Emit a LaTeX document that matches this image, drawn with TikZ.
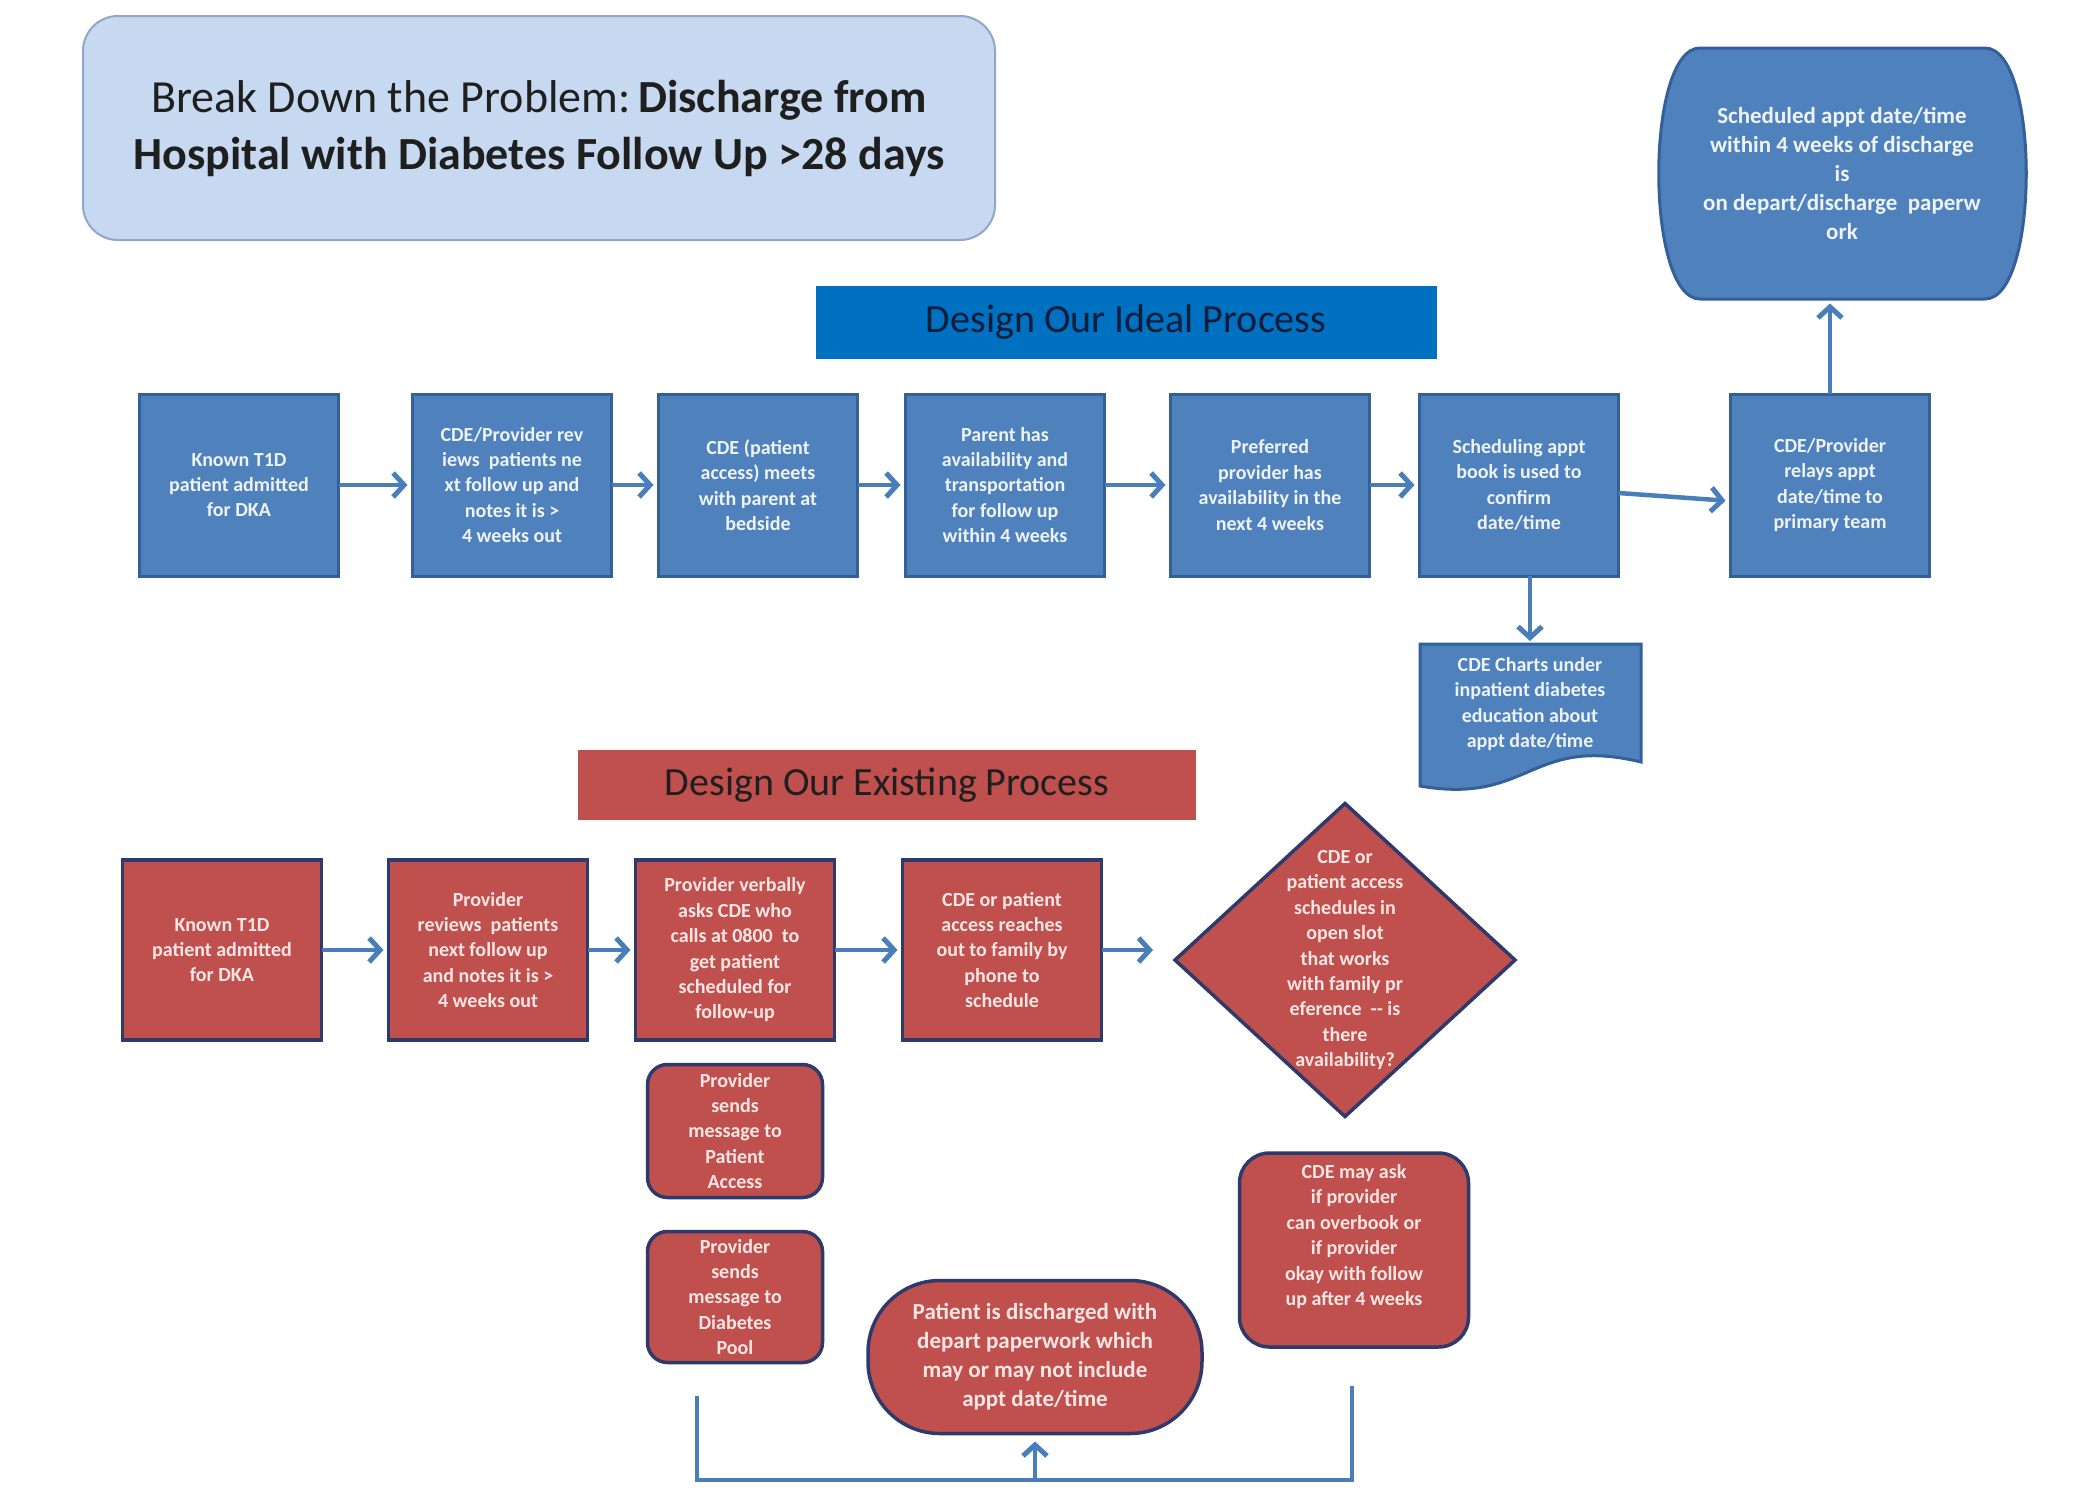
\documentclass[tikz,border=0pt]{standalone}
\usepackage{fontspec}
\setmainfont{Carlito}
\usetikzlibrary{arrows.meta,shapes.geometric}
\definecolor{bfill}{HTML}{4F81BD}
\definecolor{bdraw}{HTML}{34609A}
\definecolor{btext}{HTML}{EEF3FA}
\definecolor{rfill}{HTML}{C0504D}
\definecolor{rdraw}{HTML}{2F3A6C}
\definecolor{rtextc}{HTML}{FBE6E4}
\definecolor{arrc}{HTML}{4A7EBB}
\definecolor{titlefill}{HTML}{C6D9F0}
\definecolor{titledraw}{HTML}{8FA8C6}
\definecolor{idealfill}{HTML}{0070C0}
\definecolor{idealtext}{HTML}{0F1D3A}
\begin{document}
\begin{tikzpicture}[x=1pt,y=-1pt,
  boxtxt/.style={font=\fontsize{20}{25.4}\selectfont\bfseries, align=center, inner sep=0, outer sep=0},
  bbox/.style={boxtxt, draw=bdraw, fill=bfill, text=btext, line width=3, minimum width=199, minimum height=182},
  rbox/.style={boxtxt, draw=rdraw, fill=rfill, text=rtextc, line width=3.5, minimum width=199, minimum height=180},
  rround/.style={boxtxt, draw=rdraw, fill=rfill, text=rtextc, line width=3.5, rounded corners=20},
  arr/.style={draw=arrc, line width=4.5, -{Straight Barb[length=11pt,width=24pt,line width=5pt]}, shorten >=5},
  bracketline/.style={draw=arrc, line width=3.5},
]
\useasboundingbox (0,0) rectangle (2075,1494);
\fill[white] (0,0) rectangle (2075,1494);

% title
\node[draw=titledraw, fill=titlefill, line width=2, rounded corners=35, minimum width=912, minimum height=224,
  font=\fontsize{46}{57}\selectfont, align=center, text=black!88, inner sep=0] (title) at (539,128)
  {Break Down the Problem:\,\textbf{Discharge from}\\\textbf{Hospital with Diabetes Follow Up >28 days}};

% banners
\node[fill=idealfill, minimum width=621, minimum height=73, inner sep=0, font=\fontsize{40}{48}\selectfont, text=idealtext] (ideal) at (1126,322) {Design Our Ideal Process};
\node[fill=rfill, minimum width=618, minimum height=70, inner sep=0, font=\fontsize{40}{48}\selectfont, text=black!88] (exist) at (887,785) {Design Our Existing Process};

% top terminal shape
\path[fill=bfill, draw=bdraw, line width=3] (1700,48) -- (1985,48) .. controls (2040,48) and (2040,299) .. (1985,299) -- (1700,299) .. controls (1645,299) and (1645,48) .. (1700,48) -- cycle;
% document shape
\path[fill=bfill, draw=bdraw, line width=3] (1420,644) -- (1641,644) -- (1641,762) .. controls (1530,735) and (1530,805) .. (1420,786) -- cycle;

% ideal row
\node[bbox] (b1) at (239,485) {Known T1D\\patient admitted\\for DKA};
\node[bbox] (b2) at (512,485) {CDE/Provider rev\\iews\ \ patients ne\\xt follow up and\\notes it is >\\4 weeks out};
\node[bbox] (b3) at (758,485) {CDE (patient\\access) meets\\with parent at\\bedside};
\node[bbox] (b4) at (1005,485) {Parent has\\availability and\\transportation\\for follow up\\within 4 weeks};
\node[bbox] (b5) at (1270,485) {Preferred\\provider has\\availability in the\\next 4 weeks};
\node[bbox] (b6) at (1519,485) {Scheduling appt\\book is used to\\confirm\\date/time};
\node[bbox] (b7) at (1830,485) {CDE/Provider\\relays appt\\date/time to\\primary team};
\node[boxtxt, text=btext, font=\fontsize{23}{29}\selectfont\bfseries, minimum width=369, minimum height=251] (term) at (1842,173)
  {Scheduled appt date/time\\within 4 weeks of discharge\\is\\on depart/discharge\ \ paperw\\ork};
\node[boxtxt, text=btext, minimum width=221, minimum height=120] (doc) at (1530,704)
  {CDE Charts under\\inpatient diabetes\\education about\\appt date/time};

\draw[arr] (b1.east) -- (b2.west);
\draw[arr] (b2.east) -- (b3.west);
\draw[arr] (b3.east) -- (b4.west);
\draw[arr] (b4.east) -- (b5.west);
\draw[arr] (b5.east) -- (b6.west);
\draw[arr] ([yshift=-8pt]b6.east) -- ([yshift=-16pt]b7.west);
\draw[arr, shorten >=3] (doc.north |- b6.south) -- (doc.north);
\draw[arr] (b7.north) -- (b7.north |- term.south);

% existing row
\node[rbox] (r1) at (222,950) {Known T1D\\patient admitted\\for DKA};
\node[rbox] (r2) at (488,950) {Provider\\reviews\ \ patients\\next follow up\\and notes it is >\\4 weeks out};
\node[rbox] (r3) at (735,950) {Provider verbally\\asks CDE who\\calls at 0800\ \ to\\get patient\\scheduled for\\follow-up};
\node[rbox] (r4) at (1002,950) {CDE or patient\\access reaches\\out to family by\\phone to\\schedule};
\node[diamond, draw=rdraw, fill=rfill, line width=3.5, minimum width=340, minimum height=313, inner sep=0, outer sep=0,
  label={[boxtxt, text=rtextc]center:{CDE or\\patient access\\schedules in\\open slot\\that works\\with family pr\\eference\ \ -{}- is\\there\\availability?}}] (dia) at (1345,960) {};

\draw[arr] (r1.east) -- (r2.west);
\draw[arr] (r2.east) -- (r3.west);
\draw[arr] (r3.east) -- (r4.west);
\draw[arr, shorten >=22] (r4.east) -- (r4.east -| dia.west);

\node[rround, minimum width=175, minimum height=133] (m1) at (735,1131) {Provider\\sends\\message to\\Patient\\Access};
\node[rround, minimum width=175, minimum height=131] (m2) at (735,1297) {Provider\\sends\\message to\\Diabetes\\Pool};
\node[boxtxt, draw=rdraw, fill=rfill, text=rtextc, line width=3.5, rounded corners=72, minimum width=334, minimum height=153,
  font=\fontsize{23}{29}\selectfont\bfseries] (dis) at (1035,1357)
  {Patient is discharged with\\depart paperwork which\\may or may not include\\appt date/time};
\node[rround, rounded corners=30, minimum width=229, minimum height=194] (may) at (1354,1250)
  {\raisebox{8pt}[0pt][0pt]{\begin{tabular}{@{}c@{}}CDE may ask\\if provider\\can overbook or\\if provider\\okay with follow\\up after 4 weeks\end{tabular}}};

% bracket
\coordinate (bl) at (697,1396);
\coordinate (br) at (1352,1386);
\coordinate (bot) at (0,1480);
\draw[bracketline] (bl) -- (bl |- bot) -- (br |- bot) -- (br);
\draw[arr, shorten >=8] (dis.south |- bot) -- (dis.south);
\end{tikzpicture}
\end{document}
